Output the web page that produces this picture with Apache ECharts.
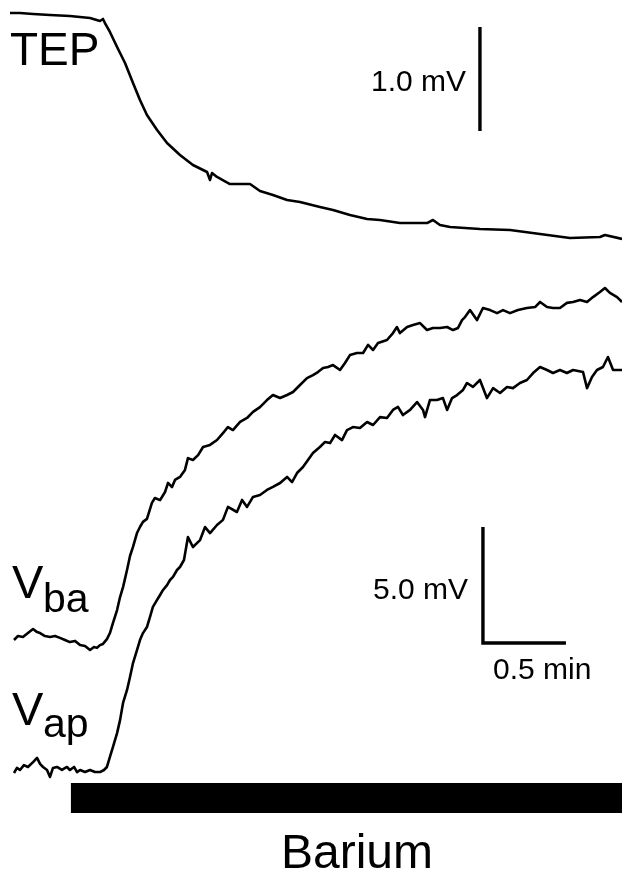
<!DOCTYPE html>
<html>
<head>
<meta charset="utf-8">
<script src="https://cdn.jsdelivr.net/npm/echarts@6/dist/echarts.min.js"></script>
<style>
  html, body { margin: 0; padding: 0; background: #fff; }
  #chart { width: 622px; height: 877px; }
</style>
</head>
<body>
<div id="chart"></div>
<script>
// Time in minutes from start of recording; values in mV (deflection from initial level)
const tepData = [[0.000,0.010],[0.060,0.010],[0.139,0.000],[0.241,-0.010],[0.361,-0.019],[0.482,-0.038],[0.542,-0.067],[0.560,-0.048],[0.572,-0.087],[0.602,-0.173],[0.645,-0.317],[0.693,-0.471],[0.741,-0.663],[0.783,-0.827],[0.825,-0.971],[0.886,-1.115],[0.946,-1.240],[1.024,-1.356],[1.102,-1.452],[1.187,-1.519],[1.205,-1.596],[1.217,-1.529],[1.247,-1.567],[1.325,-1.635],[1.446,-1.635],[1.506,-1.702],[1.584,-1.740],[1.669,-1.788],[1.747,-1.808],[1.867,-1.856],[1.946,-1.885],[2.048,-1.933],[2.151,-1.971],[2.229,-1.981],[2.349,-2.010],[2.512,-2.010],[2.548,-1.981],[2.590,-2.029],[2.651,-2.048],[2.831,-2.067],[3.012,-2.077],[3.193,-2.115],[3.373,-2.154],[3.554,-2.144],[3.584,-2.125],[3.687,-2.163]];

const vbaData = [[0.024,0.00],[0.048,0.17],[0.078,0.13],[0.108,0.30],[0.139,0.47],[0.163,0.34],[0.181,0.30],[0.211,0.17],[0.241,0.13],[0.271,0.17],[0.301,0.09],[0.331,0.00],[0.361,-0.09],[0.392,-0.04],[0.422,-0.22],[0.452,-0.26],[0.482,-0.43],[0.506,-0.30],[0.524,-0.34],[0.542,-0.22],[0.560,-0.17],[0.584,0.04],[0.602,0.30],[0.620,0.73],[0.645,1.29],[0.663,1.85],[0.681,2.28],[0.705,3.02],[0.723,3.62],[0.741,4.01],[0.765,4.61],[0.783,4.87],[0.801,5.09],[0.825,5.22],[0.855,5.91],[0.873,6.12],[0.904,6.03],[0.934,6.38],[0.952,6.77],[0.976,6.59],[0.994,6.90],[1.024,7.03],[1.054,7.33],[1.072,7.84],[1.102,7.76],[1.133,7.97],[1.163,8.32],[1.205,8.41],[1.247,8.62],[1.283,8.92],[1.313,9.18],[1.343,9.05],[1.386,9.40],[1.428,9.57],[1.464,9.83],[1.506,10.04],[1.548,10.34],[1.584,10.56],[1.627,10.43],[1.669,10.56],[1.705,10.69],[1.747,10.99],[1.789,11.29],[1.825,11.42],[1.855,11.55],[1.886,11.72],[1.916,11.77],[1.946,11.85],[1.988,11.64],[2.018,11.94],[2.048,12.28],[2.090,12.37],[2.127,12.37],[2.157,12.72],[2.187,12.50],[2.217,12.80],[2.271,12.93],[2.307,13.23],[2.331,13.49],[2.349,13.23],[2.392,13.49],[2.428,13.58],[2.470,13.66],[2.512,13.36],[2.548,13.45],[2.590,13.45],[2.633,13.49],[2.669,13.36],[2.699,13.45],[2.723,13.79],[2.741,13.92],[2.771,14.22],[2.813,13.79],[2.849,14.31],[2.892,14.22],[2.934,14.09],[2.970,14.22],[3.012,14.09],[3.060,14.22],[3.114,14.31],[3.163,14.35],[3.193,14.57],[3.235,14.35],[3.271,14.31],[3.313,14.31],[3.355,14.53],[3.392,14.57],[3.434,14.66],[3.476,14.57],[3.512,14.78],[3.554,15.00],[3.584,15.17],[3.614,14.96],[3.657,14.78],[3.687,14.57]];

const vapData = [[0.024,0.00],[0.042,0.22],[0.060,0.13],[0.084,0.34],[0.108,0.26],[0.139,0.47],[0.163,0.65],[0.181,0.39],[0.199,0.26],[0.223,0.13],[0.241,-0.17],[0.259,0.22],[0.283,0.26],[0.313,0.13],[0.343,0.26],[0.361,0.13],[0.386,0.26],[0.404,0.04],[0.422,0.13],[0.452,0.04],[0.482,0.13],[0.512,0.04],[0.542,0.04],[0.566,0.13],[0.584,0.26],[0.602,0.69],[0.620,1.12],[0.645,1.72],[0.663,2.28],[0.681,3.02],[0.705,3.58],[0.723,4.14],[0.741,4.74],[0.765,5.30],[0.783,5.73],[0.801,6.03],[0.825,6.29],[0.843,6.72],[0.861,7.16],[0.886,7.46],[0.904,7.67],[0.922,7.89],[0.946,8.10],[0.964,8.32],[0.982,8.45],[1.006,8.75],[1.024,8.88],[1.048,9.18],[1.072,10.17],[1.102,9.74],[1.145,10.04],[1.175,10.60],[1.205,10.34],[1.247,10.69],[1.283,10.91],[1.313,11.47],[1.367,11.25],[1.398,11.77],[1.428,11.47],[1.464,11.90],[1.506,11.98],[1.548,12.20],[1.584,12.33],[1.627,12.50],[1.669,12.76],[1.699,12.54],[1.729,12.93],[1.765,13.19],[1.795,13.49],[1.825,13.79],[1.867,14.05],[1.898,14.27],[1.928,14.22],[1.958,14.57],[2.000,14.35],[2.030,14.78],[2.066,14.91],[2.108,14.87],[2.151,15.13],[2.187,15.00],[2.229,15.34],[2.271,15.30],[2.307,15.65],[2.337,15.78],[2.367,15.43],[2.410,15.65],[2.452,15.99],[2.488,15.65],[2.500,15.34],[2.530,16.08],[2.572,16.08],[2.608,16.16],[2.633,15.65],[2.663,16.16],[2.693,16.29],[2.729,16.51],[2.753,16.81],[2.789,16.64],[2.831,16.94],[2.873,16.16],[2.910,16.59],[2.952,16.38],[2.994,16.64],[3.030,16.59],[3.072,16.81],[3.114,16.94],[3.151,17.24],[3.193,17.50],[3.235,17.37],[3.271,17.24],[3.313,17.37],[3.355,17.24],[3.392,17.37],[3.452,17.28],[3.476,16.59],[3.506,17.07],[3.536,17.37],[3.572,17.50],[3.602,17.93],[3.633,17.37],[3.687,17.37]];

// Barium application period (min)
const bariumStart = 0.367;
const bariumEnd = 3.80;

// Scale bar sizes
const tepScaleMv = 1.0;
const vScaleMv = 5.0;
const timeScaleMin = 0.5;

// Labels
const traceLabels = ['TEP', 'V', 'ba', 'V', 'ap'];
const scaleLabels = ['1.0 mV', '5.0 mV', '0.5 min'];
const bariumLabel = 'Barium';

// ---------- layout ----------
const FONT = '"Liberation Sans", Arial, Helvetica, sans-serif';
const tepBarAnchor = { t: 2.831, v: -0.125 };   // top of TEP scale bar (TEP axis)
const vBarAnchor = { t: 2.849, v: -0.129 };     // corner of V scale bar (Vba axis)
const bariumLevel = -1.078;                     // on Vap axis

const chart = echarts.init(document.getElementById('chart'), null, { renderer: 'canvas' });

const lineBase = {
  type: 'line', showSymbol: false, symbol: 'none', animation: false, silent: true,
  clip: true, lineStyle: { color: '#000', width: 2.6, join: 'round' }
};

const option = {
  backgroundColor: '#ffffff',
  animation: false,
  grid: { left: 0, right: 0, top: 0, bottom: 0, containLabel: false },
  xAxis: { type: 'value', min: -0.0602, max: 3.6867, show: false },
  yAxis: [
    { type: 'value', min: -8.2981, max: 0.1346, show: false },
    { type: 'value', min: -10.216, max: 27.586, show: false },
    { type: 'value', min: -4.483, max: 33.319, show: false }
  ],
  series: [
    Object.assign({}, lineBase, { name: 'TEP', yAxisIndex: 0, data: tepData }),
    Object.assign({}, lineBase, { name: 'Vba', yAxisIndex: 1, data: vbaData }),
    Object.assign({}, lineBase, { name: 'Vap', yAxisIndex: 2, data: vapData }),
    Object.assign({}, lineBase, {
      name: 'tepScale', yAxisIndex: 0,
      lineStyle: { color: '#000', width: 3.4, cap: 'butt' },
      data: [[tepBarAnchor.t, tepBarAnchor.v], [tepBarAnchor.t, tepBarAnchor.v - tepScaleMv]]
    }),
    Object.assign({}, lineBase, {
      name: 'vScale', yAxisIndex: 1,
      lineStyle: { color: '#000', width: 3.4, cap: 'butt', join: 'miter' },
      data: [[vBarAnchor.t, vBarAnchor.v + vScaleMv], [vBarAnchor.t, vBarAnchor.v], [vBarAnchor.t + timeScaleMin, vBarAnchor.v]]
    }),
    Object.assign({}, lineBase, {
      name: 'barium', yAxisIndex: 2,
      lineStyle: { color: '#000', width: 30, cap: 'butt' },
      data: [[bariumStart, bariumLevel], [bariumEnd, bariumLevel]]
    })
  ],
  graphic: [
    { type: 'text', style: { text: traceLabels[0], x: 10, y: 52, fontSize: 46, fontFamily: FONT, fill: '#000', align: 'left', verticalAlign: 'middle' } },
    { type: 'text', style: { text: traceLabels[1], x: 12, y: 585, fontSize: 47, fontFamily: FONT, fill: '#000', align: 'left', verticalAlign: 'middle' } },
    { type: 'text', style: { text: traceLabels[2], x: 43, y: 601, fontSize: 41, fontFamily: FONT, fill: '#000', align: 'left', verticalAlign: 'middle' } },
    { type: 'text', style: { text: traceLabels[3], x: 12, y: 712, fontSize: 47, fontFamily: FONT, fill: '#000', align: 'left', verticalAlign: 'middle' } },
    { type: 'text', style: { text: traceLabels[4], x: 43, y: 726, fontSize: 41, fontFamily: FONT, fill: '#000', align: 'left', verticalAlign: 'middle' } },
    { type: 'text', style: { text: scaleLabels[0], x: 466, y: 83, fontSize: 30, fontFamily: FONT, fill: '#000', align: 'right', verticalAlign: 'middle' } },
    { type: 'text', style: { text: scaleLabels[1], x: 468, y: 591, fontSize: 30, fontFamily: FONT, fill: '#000', align: 'right', verticalAlign: 'middle' } },
    { type: 'text', style: { text: scaleLabels[2], x: 493, y: 671, fontSize: 30, fontFamily: FONT, fill: '#000', align: 'left', verticalAlign: 'middle' } },
    { type: 'text', style: { text: bariumLabel, x: 357, y: 855, fontSize: 48, fontFamily: FONT, fill: '#000', align: 'center', verticalAlign: 'middle' } }
  ]
};

chart.setOption(option);
</script>
</body>
</html>
